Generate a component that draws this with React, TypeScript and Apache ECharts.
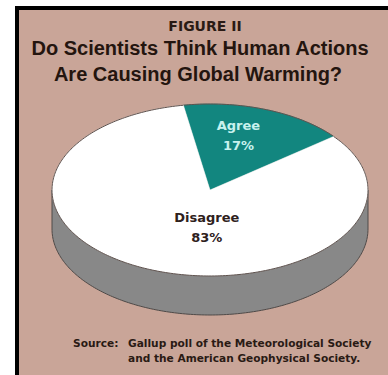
import React, { useEffect, useRef } from 'react';
import * as echarts from 'echarts';

// ---- data ----
const categories = ['Agree', 'Disagree'];
const values = [17, 83];
const sliceColors = ['#12867f', '#ffffff'];
const labelColors = ['#c8f2ee', '#2e211c'];

const figureLabel = 'FIGURE II';
const titleLines = ['Do Scientists Think Human Actions', 'Are Causing Global Warming?'];
const sourceHead = 'Source:';
const sourceLines = ['Gallup poll of the Meteorological Society', 'and the American Geophysical Society.'];

// ---- layout ----
const CX = 210;
const CY = 190;
const RX = 158;
const RY = 86;
const DEPTH = 39;
const START_DEG = 99.7; // where the first slice starts, going clockwise
const LABEL_ANCHORS = [
  [0.18, 0.63],
  [-0.02, -0.44],
];

const total = values.reduce((a, b) => a + b, 0);

function sliceAngles(i: number): [number, number] {
  let before = 0;
  for (let k = 0; k < i; k++) before += values[k];
  const a0 = START_DEG - (before / total) * 360;
  const a1 = a0 - (values[i] / total) * 360;
  return [a0, a1];
}

function pt(deg: number, dy = 0): number[] {
  const r = (deg * Math.PI) / 180;
  return [CX + RX * Math.cos(r), CY - RY * Math.sin(r) + dy];
}

function arc(from: number, to: number, dy = 0): number[][] {
  const pts: number[][] = [];
  const steps = Math.max(2, Math.ceil(Math.abs(from - to)));
  for (let s = 0; s <= steps; s++) {
    pts.push(pt(from + ((to - from) * s) / steps, dy));
  }
  return pts;
}

export default function App() {
  const ref = useRef<HTMLDivElement>(null);

  useEffect(() => {
    if (!ref.current) return;
    const chart = echarts.init(ref.current, undefined, { renderer: 'svg' });
    const seriesData = values.map((v, i) => ({ name: categories[i], value: v }));

    const sideRender = (params: any, api: any) => {
      const i = params.dataIndex;
      const [a0, a1] = sliceAngles(i);
      const children: any[] = [];
      for (let k = -1; k <= 1; k++) {
        const lo = Math.max(a1, -180 + 360 * k);
        const hi = Math.min(a0, 360 * k);
        if (hi > lo) {
          const top = arc(hi, lo);
          const bottom = arc(lo, hi, DEPTH);
          children.push({
            type: 'polygon',
            shape: { points: top.concat(bottom) },
            style: { fill: '#888888', stroke: '#4f4a48', lineWidth: 1 },
          });
        }
      }
      return { type: 'group', children };
    };

    const topRender = (params: any, api: any) => {
      const i = params.dataIndex;
      const v = api.value(0);
      const [a0, a1] = sliceAngles(i);
      const pts = [[CX, CY]].concat(arc(a0, a1));
      const [nx, ny] = LABEL_ANCHORS[i];
      return {
        type: 'group',
        children: [
          {
            type: 'polygon',
            shape: { points: pts },
            style: { fill: sliceColors[i], stroke: sliceColors[i], lineWidth: 0.5 },
          },
          {
            type: 'polyline',
            shape: { points: arc(a0, a1) },
            style: { fill: null, stroke: '#5e524e', lineWidth: 1 },
          },
          {
            type: 'text',
            x: CX + nx * RX,
            y: CY - ny * RY,
            style: {
              text: categories[i] + '\n' + v + '%',
              fill: labelColors[i],
              font: 'bold 13px "DejaVu Sans"',
              align: 'center',
              verticalAlign: 'middle',
              lineHeight: 20,
            },
          },
        ],
      };
    };

    chart.setOption({
      animation: false,
      backgroundColor: '#ffffff',
      graphic: [
        { type: 'rect', shape: { x: 15, y: 6, width: 400, height: 400 }, style: { fill: '#000000' }, z: -10 },
        { type: 'rect', shape: { x: 19, y: 10, width: 400, height: 400 }, style: { fill: '#c9a598' }, z: -9 },
        {
          type: 'text', x: 205, y: 26,
          style: { text: figureLabel, font: 'bold 14px "DejaVu Sans"', fill: '#2a1a14', align: 'center', verticalAlign: 'middle' },
        },
        {
          type: 'text', x: 200, y: 48,
          style: { text: titleLines[0], font: 'bold 20px "Liberation Sans"', fill: '#24150f', align: 'center', verticalAlign: 'middle' },
        },
        {
          type: 'text', x: 198, y: 74,
          style: { text: titleLines[1], font: 'bold 20px "Liberation Sans"', fill: '#24150f', align: 'center', verticalAlign: 'middle' },
        },
        {
          type: 'text', x: 73, y: 343,
          style: { text: sourceHead, font: 'bold 10.6px "DejaVu Sans"', fill: '#2a1a14', align: 'left', verticalAlign: 'middle' },
        },
        {
          type: 'text', x: 128, y: 343,
          style: { text: sourceLines[0], font: 'bold 10.6px "DejaVu Sans"', fill: '#2a1a14', align: 'left', verticalAlign: 'middle' },
        },
        {
          type: 'text', x: 128, y: 358,
          style: { text: sourceLines[1], font: 'bold 10.6px "DejaVu Sans"', fill: '#2a1a14', align: 'left', verticalAlign: 'middle' },
        },
      ],
      series: [
        { type: 'custom', coordinateSystem: 'none', renderItem: sideRender, data: seriesData, z: 1, silent: true },
        { type: 'custom', coordinateSystem: 'none', renderItem: topRender, data: seriesData, z: 2, silent: true },
      ],
    });

    return () => chart.dispose();
  }, []);

  return <div ref={ref} style={{ position: 'absolute', left: 0, top: 0, width: 388, height: 375 }} />;
}
